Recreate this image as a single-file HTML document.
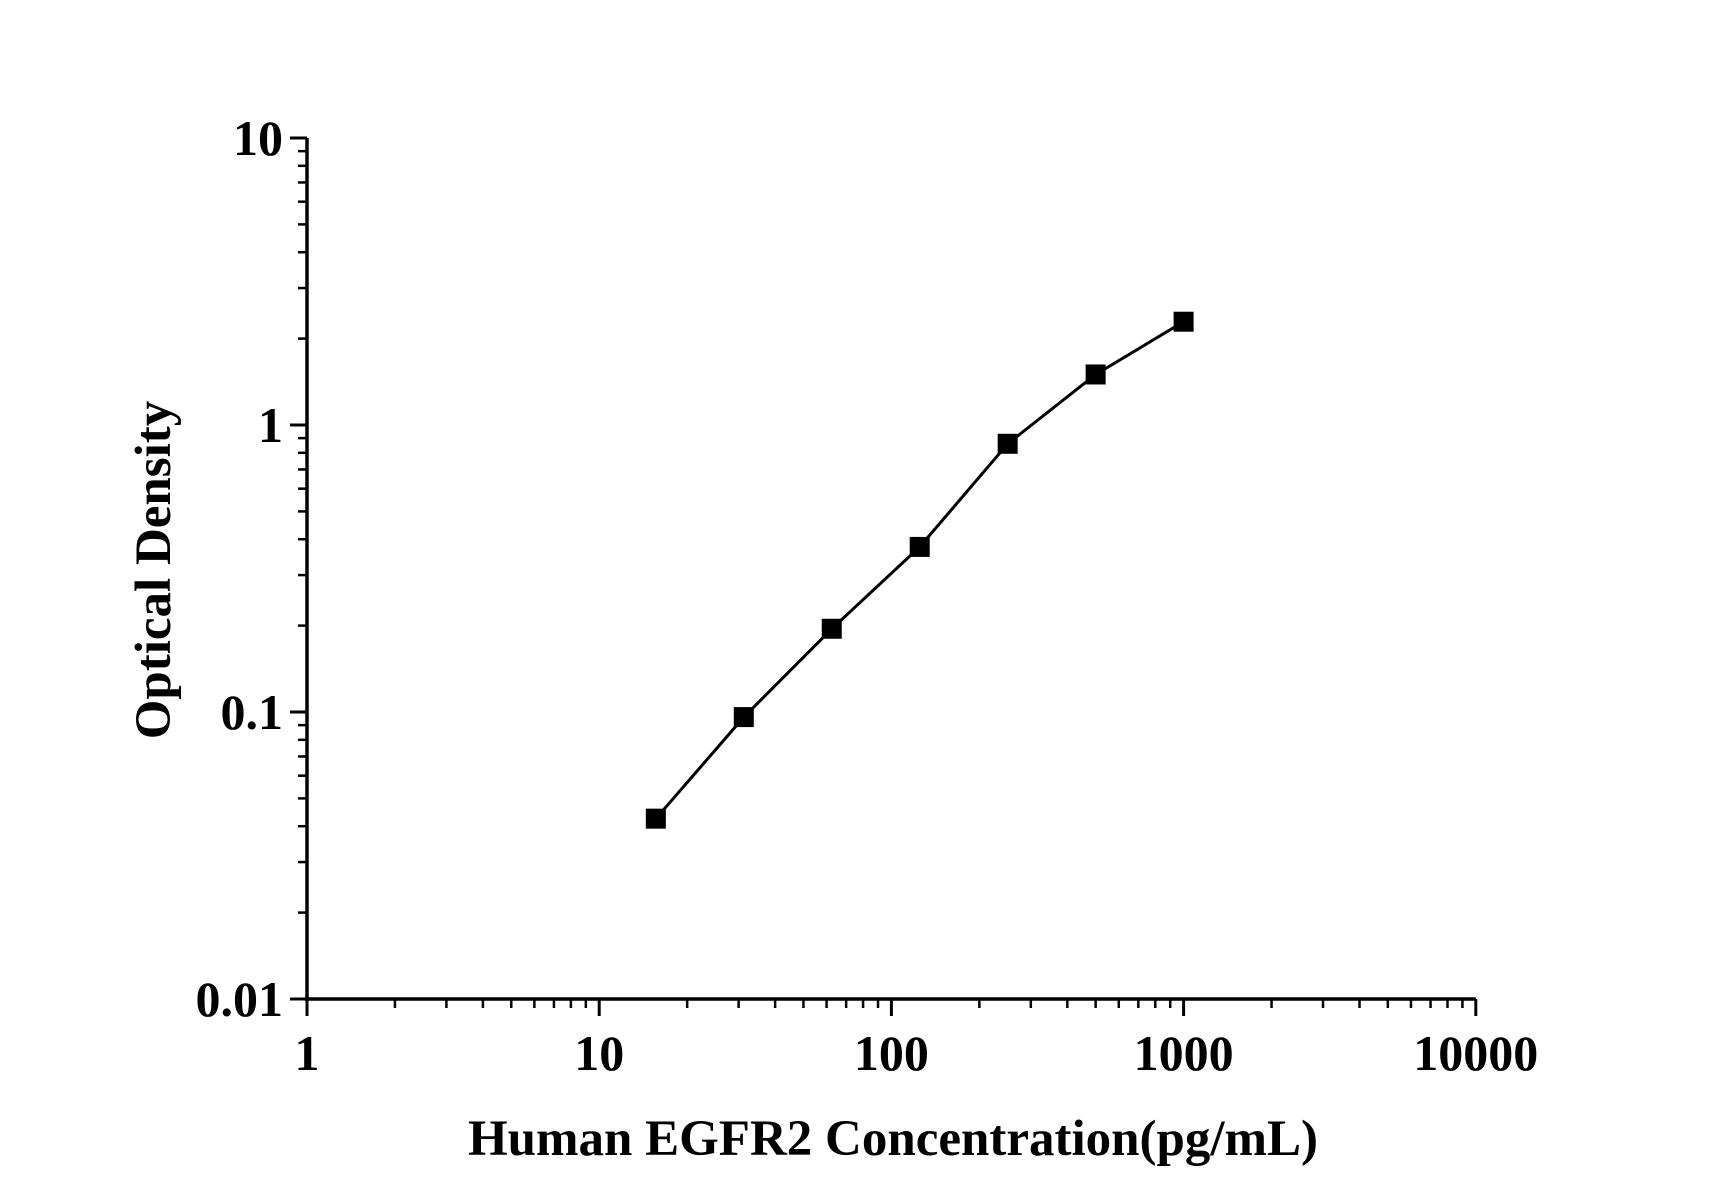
<!DOCTYPE html>
<html><head><meta charset="utf-8"><style>
html,body{margin:0;padding:0;background:#fff;}
svg{display:block;font-family:"Liberation Serif",serif;font-weight:bold;}
</style></head><body>
<svg id="chart" width="1712" height="1196" viewBox="0 0 1712 1196" xmlns="http://www.w3.org/2000/svg">
<g id="axes"></g>
<g id="series"></g>
<text x="893" y="1155" font-size="51" text-anchor="middle">Human EGFR2 Concentration(pg/mL)</text>
<text x="0" y="0" font-size="51" text-anchor="middle" transform="translate(170,570) rotate(-90)">Optical Density</text>
</svg>
<script>
const concentrations = [15.625, 31.25, 62.5, 125, 250, 500, 1000];
const odValues = [0.0425, 0.096, 0.195, 0.376, 0.86, 1.5, 2.29];
const xTickValues = [1, 10, 100, 1000, 10000];
const xTickLabels = ["1", "10", "100", "1000", "10000"];
const yTickValues = [0.01, 0.1, 1, 10];
const yTickLabels = ["0.01", "0.1", "1", "10"];

const NS = "http://www.w3.org/2000/svg";
const X0 = 307, XDEC = 292.2, Y0 = 999, YDEC = 287;
function xs(v){ return X0 + Math.log10(v) * XDEC; }
function ys(v){ return Y0 - (Math.log10(v) + 2) * YDEC; }
function mk(tag, attrs, parent){
  const e = document.createElementNS(NS, tag);
  for (const k in attrs) e.setAttribute(k, attrs[k]);
  parent.appendChild(e);
  return e;
}
const axes = document.getElementById("axes");
const series = document.getElementById("series");

let l = mk("line", {x1:X0, y1:ys(10), x2:X0, y2:Y0+2, stroke:"#000","stroke-width":3.5}, axes);


l = mk("line", {x1:X0-2, y1:Y0, x2:xs(10000), y2:Y0, stroke:"#000","stroke-width":3.5}, axes);



for (let d = 0; d < 4; d++) {
  for (let m = 2; m <= 9; m++) {
    const x = xs(Math.pow(10, d) * m);
    const t = mk("line", {x1:x, y1:Y0, x2:x, y2:Y0+9, stroke:"#000","stroke-width":2.5}, axes);
    
    
  }
}
xTickValues.forEach((v, i) => {
  const x = xs(v);
  const t = mk("line", {x1:x, y1:Y0, x2:x, y2:Y0+17, stroke:"#000","stroke-width":3}, axes);
  
  
  const tx = mk("text", {x:x, y:1070, "font-size":50, "text-anchor":"middle"}, axes);
  tx.textContent = xTickLabels[i];
  
  
});
for (let d = -2; d < 1; d++) {
  for (let m = 2; m <= 9; m++) {
    const y = ys(Math.pow(10, d) * m);
    const t = mk("line", {x1:X0-9, y1:y, x2:X0, y2:y, stroke:"#000","stroke-width":2.5}, axes);
    
    
  }
}
yTickValues.forEach((v, i) => {
  const y = ys(v);
  const t = mk("line", {x1:X0-17, y1:y, x2:X0, y2:y, stroke:"#000","stroke-width":3}, axes);
  
  
  const tx = mk("text", {x:283, y:y+17, "font-size":50, "text-anchor":"end"}, axes);
  tx.textContent = yTickLabels[i];
  
  
});

const pts = concentrations.map((c, i) => xs(c).toFixed(1) + "," + ys(odValues[i]).toFixed(1)).join(" ");
const pl = mk("polyline", {points:pts, fill:"none", stroke:"#000", "stroke-width":3, "stroke-linejoin":"round"}, series);


concentrations.forEach((c, i) => {
  const s = 20;
  const r = mk("rect", {x:xs(c)-s/2, y:ys(odValues[i])-s/2, width:s, height:s, fill:"#000"}, series);
  
  
});
</script>
</body></html>
